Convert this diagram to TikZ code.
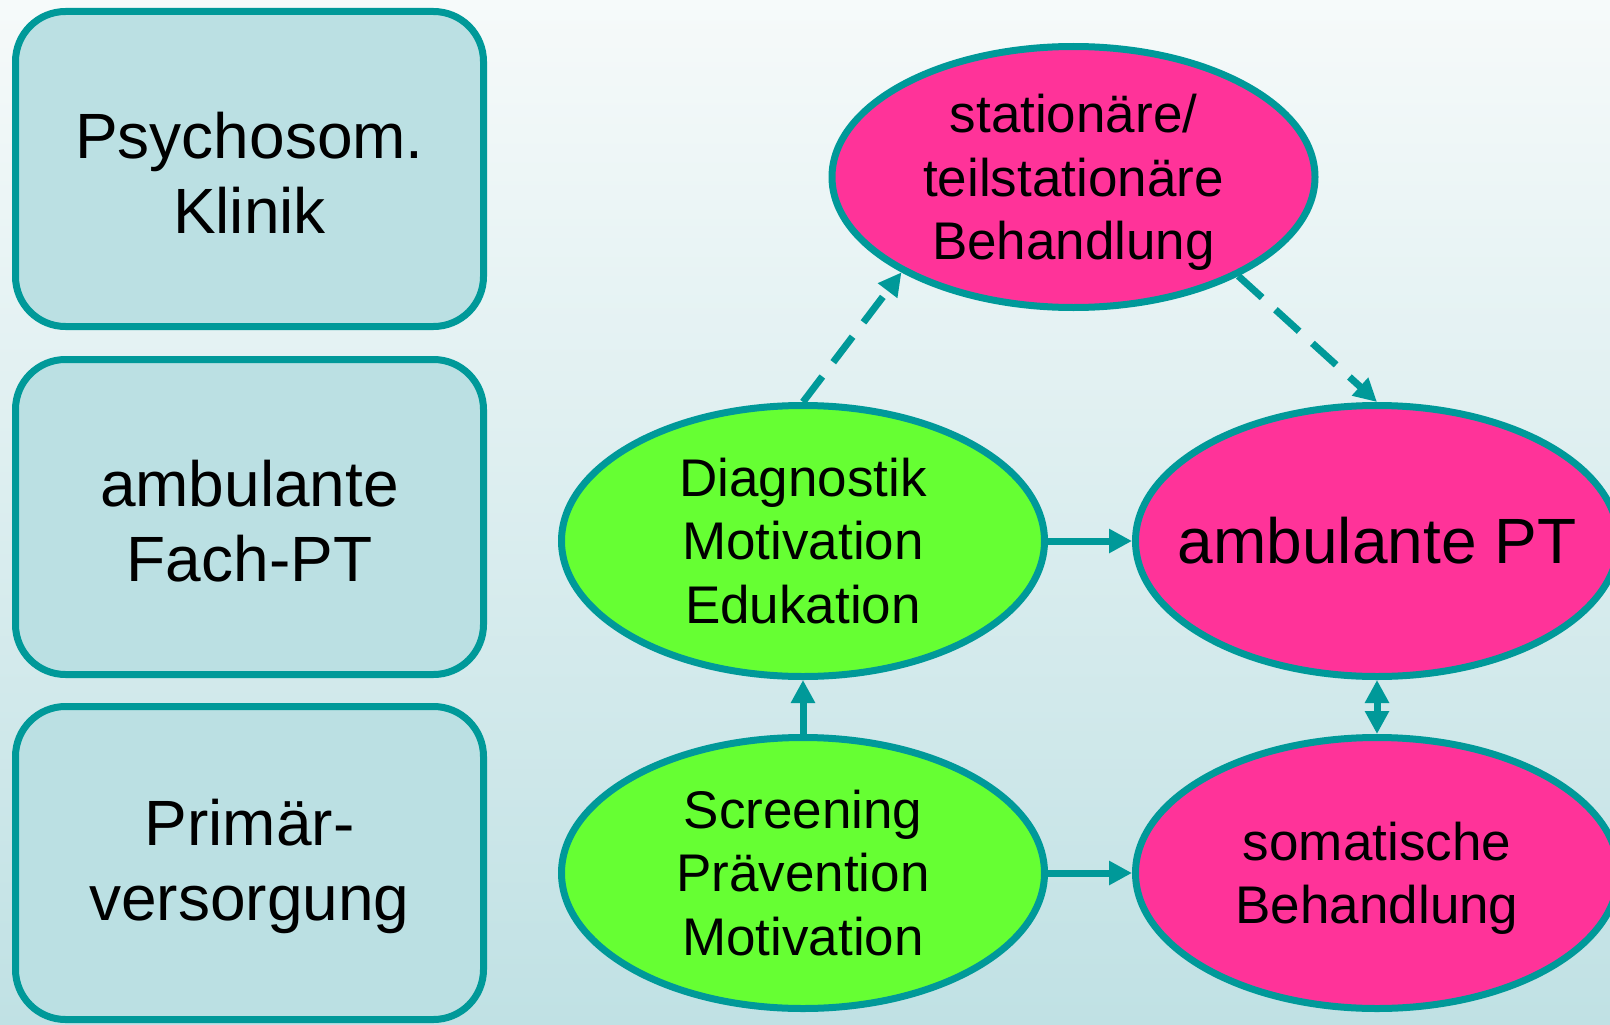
\documentclass[tikz,border=0pt]{standalone}
\usepackage{fontspec}
\setmainfont{Liberation Sans}
\usetikzlibrary{shapes.geometric,arrows.meta}
\definecolor{tealc}{HTML}{009999}
\definecolor{boxfill}{HTML}{BBE0E3}
\definecolor{pinkf}{HTML}{FF3399}
\definecolor{greenf}{HTML}{66FF33}
\definecolor{bgtop}{HTML}{F6FAFA}
\definecolor{bgbot}{HTML}{C0E1E4}
\begin{document}
\begin{tikzpicture}[x=1pt,y=-1pt,
  levelbox/.style={draw=tealc, line width=7pt, fill=boxfill, rounded corners=50pt,
    minimum width=468pt, inner sep=0pt, outer sep=3.5pt, align=center,
    text height=129pt, font=\fontsize{64}{75}\selectfont},
  oval/.style={ellipse, draw=tealc, line width=7pt, minimum width=483pt,
    minimum height=271pt, inner sep=0pt, outer sep=3.5pt, align=center,
    font=\fontsize{53}{63.5}\selectfont},
  pinkoval/.style={oval, fill=pinkf},
  greenoval/.style={oval, fill=greenf},
  conn/.style={draw=tealc, line width=7pt, -{Triangle[length=23pt,width=23pt]}},
  dconn/.style={conn, dash pattern=on 32pt off 18pt}
]
\useasboundingbox (0,0) rectangle (1610,1025);
\shade[top color=bgtop, bottom color=bgbot] (0,0) rectangle (1610,1025);

% level boxes
\node[levelbox, minimum height=315pt] (klinik) at (249.5,169) {Psychosom.\\Klinik};
\node[levelbox, minimum height=315pt] (fach) at (249.5,517) {ambulante\\Fach-PT};
\node[levelbox, minimum height=313pt] (primaer) at (249.5,863) {Primär-\\versorgung};

% ovals
\node[pinkoval, minimum height=261pt, text depth=0pt] (stat) at (1073.5,177) {stationäre/\\teilstationäre\\Behandlung};
\node[greenoval] (diag) at (803,541) {Diagnostik\\Motivation\\Edukation};
\node[pinkoval, inner xsep=-30pt, font=\fontsize{64}{75}\selectfont] (ambpt) at (1377,541) {ambulante PT};
\node[greenoval] (scr) at (803,873) {Screening\\Prävention\\Motivation};
\node[pinkoval, text depth=0pt] (som) at (1377,873) {somatische\\Behandlung};

% connectors
\draw[dconn] (diag.north) -- (stat.209);
\draw[dconn] (stat.329) -- (ambpt.north);
\draw[conn] (diag.east) -- (ambpt.west);
\draw[conn] (scr.east) -- (som.west);
\draw[conn] (scr.north) -- (diag.south);
\draw[conn, {Triangle[length=23pt,width=23pt]}-{Triangle[length=23pt,width=23pt]}] (ambpt.south) -- (som.north);
\end{tikzpicture}
\end{document}
